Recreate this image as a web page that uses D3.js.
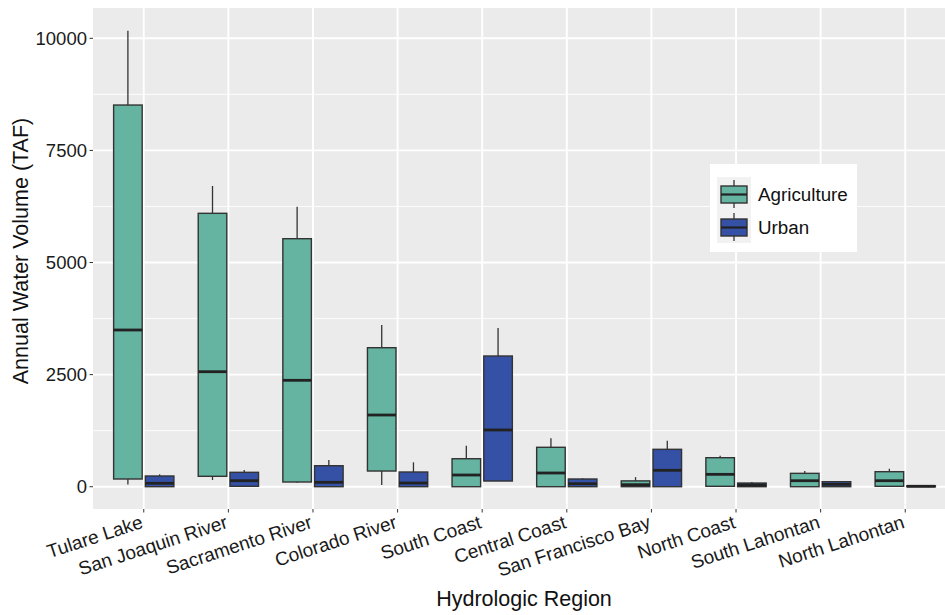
<!DOCTYPE html>
<html><head><meta charset="utf-8">
<script src="https://cdn.jsdelivr.net/npm/d3@7"></script>
<style>body{margin:0;background:#fff}svg{display:block}text{font-family:"Liberation Sans",Arial,Helvetica,sans-serif}</style>
</head><body><svg id="c" width="945" height="615"></svg>
<script>
const categories = ["Tulare Lake","San Joaquin River","Sacramento River","Colorado River","South Coast","Central Coast","San Francisco Bay","North Coast","South Lahontan","North Lahontan"];
const seriesNames = ["Agriculture","Urban"];
const agLow  = [50, 150, 90, 40, 0, 0, 0, 5, 0, 5];
const agQ1   = [172, 232, 105, 350, 0, 0, 0, 9, 0, 9];
const agMed  = [3495, 2565, 2373, 1599, 261, 306, 45, 276, 134, 134];
const agQ3   = [8512, 6097, 5531, 3100, 624, 879, 130, 647, 298, 335];
const agHigh = [10169, 6706, 6245, 3606, 915, 1079, 214, 691, 350, 401];
const urLow  = [0, 0, 0, 0, 127, 0, 0, 0, 0, 0];
const urQ1   = [0, 9, 0, 0, 127, 0, 0, 0, 0, 0];
const urMed  = [76, 134, 98, 82, 1265, 67, 366, 38, 53, 10];
const urQ3   = [239, 321, 468, 328, 2915, 172, 834, 82, 112, 20];
const urHigh = [276, 372, 595, 544, 3540, 190, 1026, 105, 127, 25];
const yTicks = [0, 2500, 5000, 7500, 10000];
const yMinor = [1250, 3750, 6250, 8750];
const colors = ["#65b4a2", "#3451a5"];

const svg = d3.select("#c");
const L = 93, R = 956, T = 8, B = 509;
const y = d3.scaleLinear().domain([-497, 10676]).range([B, T]);
const x = d3.scalePoint().domain(categories).range([L, R]).padding(0.6);
const step = x.step();
const bw = 0.75 * step / 2 * 0.9;
const off = 0.75 * step / 4;

svg.append("rect").attr("x", L).attr("y", T).attr("width", R - L).attr("height", B - T).attr("fill", "#ebebeb");
const g = svg.append("g");
g.selectAll(".mn").data(yMinor).join("line").attr("x1", L).attr("x2", R).attr("y1", d => y(d)).attr("y2", d => y(d)).attr("stroke", "#fff").attr("stroke-width", 0.9);
g.selectAll(".mj").data(yTicks).join("line").attr("x1", L).attr("x2", R).attr("y1", d => y(d)).attr("y2", d => y(d)).attr("stroke", "#fff").attr("stroke-width", 1.9);
g.selectAll(".vx").data(categories).join("line").attr("x1", d => x(d)).attr("x2", d => x(d)).attr("y1", T).attr("y2", B).attr("stroke", "#fff").attr("stroke-width", 1.9);

const series = [
  {low: agLow, q1: agQ1, med: agMed, q3: agQ3, high: agHigh, dx: -off, col: colors[0]},
  {low: urLow, q1: urQ1, med: urMed, q3: urQ3, high: urHigh, dx: off, col: colors[1]}
];
series.forEach(s => {
  const gg = svg.append("g");
  categories.forEach((c, i) => {
    const cx = x(c) + s.dx;
    gg.append("line").attr("x1", cx).attr("x2", cx).attr("y1", y(s.high[i])).attr("y2", y(s.q3[i])).attr("stroke", "#333").attr("stroke-width", 1.3);
    gg.append("line").attr("x1", cx).attr("x2", cx).attr("y1", y(s.q1[i])).attr("y2", y(s.low[i])).attr("stroke", "#333").attr("stroke-width", 1.3);
    gg.append("rect").attr("x", cx - bw / 2).attr("width", bw).attr("y", y(s.q3[i])).attr("height", Math.max(0.5, y(s.q1[i]) - y(s.q3[i])))
      .attr("fill", s.col).attr("stroke", "#333").attr("stroke-width", 1.4);
    gg.append("line").attr("x1", cx - bw / 2).attr("x2", cx + bw / 2).attr("y1", y(s.med[i])).attr("y2", y(s.med[i])).attr("stroke", "#222").attr("stroke-width", 2.8);
  });
});

// y axis
const ya = svg.append("g");
ya.selectAll("line").data(yTicks).join("line").attr("x1", L - 3.5).attr("x2", L).attr("y1", d => y(d)).attr("y2", d => y(d)).attr("stroke", "#333").attr("stroke-width", 1);
ya.selectAll("text").data(yTicks).join("text").attr("x", L - 6).attr("y", d => y(d)).attr("dy", "0.35em").attr("text-anchor", "end")
  .attr("font-size", 18.5).attr("fill", "#1a1a1a").text(d => d);
// x axis
const xa = svg.append("g");
xa.selectAll("line").data(categories).join("line").attr("x1", d => x(d)).attr("x2", d => x(d)).attr("y1", B).attr("y2", B + 3.5).attr("stroke", "#333").attr("stroke-width", 1);
xa.selectAll("text").data(categories).join("text")
  .attr("transform", d => `translate(${x(d) - 4},${B + 5}) rotate(-18)`)
  .attr("dy", "0.75em").attr("text-anchor", "end").attr("font-size", 19).attr("fill", "#1a1a1a").text(d => d);

svg.append("text").attr("x", 524).attr("y", 606).attr("text-anchor", "middle").attr("font-size", 21.5).attr("fill", "#111").text("Hydrologic Region");
svg.append("text").attr("transform", "translate(28,251) rotate(-90)").attr("text-anchor", "middle").attr("font-size", 21.5).attr("fill", "#111").text("Annual Water Volume (TAF)");

// legend
const lg = svg.append("g");
lg.append("rect").attr("x", 710).attr("y", 164).attr("width", 147).attr("height", 88).attr("fill", "#fff");
const keys = [{t: 177, col: colors[0], name: seriesNames[0]}, {t: 210, col: colors[1], name: seriesNames[1]}];
keys.forEach(k => {
  lg.append("rect").attr("x", 717).attr("y", k.t).attr("width", 34).attr("height", 33).attr("fill", "#f2f2f2");
  const cx = 734;
  lg.append("line").attr("x1", cx).attr("x2", cx).attr("y1", k.t + 3).attr("y2", k.t + 31).attr("stroke", "#333").attr("stroke-width", 1.3);
  lg.append("rect").attr("x", 721).attr("y", k.t + 9).attr("width", 26).attr("height", 17).attr("fill", k.col).attr("stroke", "#333").attr("stroke-width", 1.4);
  lg.append("line").attr("x1", 721).attr("x2", 747).attr("y1", k.t + 17.5).attr("y2", k.t + 17.5).attr("stroke", "#222").attr("stroke-width", 2.2);
  lg.append("text").attr("x", 758).attr("y", k.t + 17.5).attr("dy", "0.35em").attr("font-size", 18.8).attr("fill", "#111").text(k.name);
});
</script></body></html>
